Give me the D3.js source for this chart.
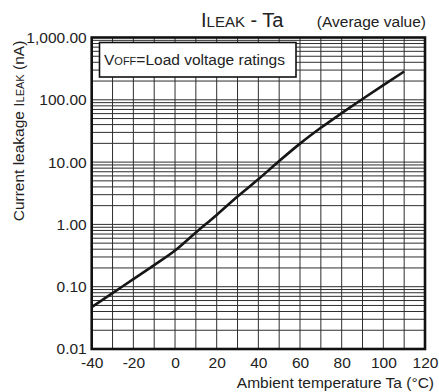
<!DOCTYPE html>
<html>
<head>
<meta charset="utf-8">
<script src="https://cdn.jsdelivr.net/npm/d3@7"></script>
<style>
  html, body { margin: 0; padding: 0; background: #fff; }
  svg { display: block; font-family: "Liberation Sans", Arial, Helvetica, sans-serif; }
</style>
</head>
<body>
<svg id="chart" width="439" height="392"></svg>
<script>
// Ambient temperature (°C) and average leakage current (nA)
const temperatures = [-40, -30, -20, -10, 0, 10, 20, 30, 40, 50, 60, 70, 80, 90, 100, 110];
const leakage = [0.047, 0.079, 0.132, 0.222, 0.38, 0.74, 1.42, 2.8, 5.3, 10.4, 19.8, 35.5, 61, 103, 172, 285];

const xTicks = [-40, -20, 0, 20, 40, 60, 80, 100, 120];
const xTickLabels = ["-40", "-20", "0", "20", "40", "60", "80", "100", "120"];
const yTicks = [0.01, 0.1, 1, 10, 100, 1000];
const yTickLabels = ["0.01", "0.10", "1.00", "10.00", "100.00", "1,000.00"];

const svg = d3.select("#chart");
const plotLeft = 91.7, plotRight = 425, plotTop = 37.5, plotBottom = 349;

const x = d3.scaleLinear().domain([-40, 120]).range([plotLeft, plotRight]);
const y = d3.scaleLog().domain([0.01, 1000]).range([plotBottom, plotTop]);

// Grid: vertical every 10 °C, horizontal at log minors 1..9 per decade
const grid = svg.append("g").attr("stroke", "#2e2e2e").attr("stroke-width", 1);
d3.range(-30, 120, 10).forEach(t => {
  grid.append("line")
    .attr("x1", x(t)).attr("x2", x(t))
    .attr("y1", plotTop).attr("y2", plotBottom);
});
const minors = [];
for (let e = -2; e < 3; e++) {
  for (let m = 1; m <= 9; m++) minors.push(m * Math.pow(10, e));
}
minors.filter(v => v > 0.01).forEach(v => {
  grid.append("line")
    .attr("x1", plotLeft).attr("x2", plotRight)
    .attr("y1", y(v)).attr("y2", y(v));
});

// Plot frame
svg.append("rect")
  .attr("x", plotLeft).attr("y", plotTop)
  .attr("width", plotRight - plotLeft).attr("height", plotBottom - plotTop)
  .attr("fill", "none").attr("stroke", "#111").attr("stroke-width", 2.6);

// Axes (labels only; the frame draws the lines)
const xAxis = d3.axisBottom(x).tickValues(xTicks)
  .tickFormat((d, i) => xTickLabels[i]).tickSize(0).tickPadding(8);
svg.append("g").attr("transform", `translate(0,${plotBottom})`).call(xAxis)
  .call(g => g.select(".domain").remove())
  .selectAll("text")
  .attr("font-size", 15.5).attr("fill", "#222")
  .attr("font-family", "Liberation Sans, Arial, sans-serif");

const yAxis = d3.axisLeft(y).tickValues(yTicks)
  .tickFormat((d, i) => yTickLabels[i]).tickSize(0).tickPadding(5);
svg.append("g").attr("transform", `translate(${plotLeft},0)`).call(yAxis)
  .call(g => g.select(".domain").remove())
  .selectAll("text")
  .attr("font-size", 15.5).attr("fill", "#222")
  .attr("font-family", "Liberation Sans, Arial, sans-serif");

// Leakage curve
const line = d3.line()
  .x((d, i) => x(temperatures[i]))
  .y(d => y(d))
  .curve(d3.curveMonotoneX);
svg.append("path")
  .datum(leakage)
  .attr("d", line)
  .attr("fill", "none")
  .attr("stroke", "#161616")
  .attr("stroke-width", 2.6);

// Condition box
svg.append("rect")
  .attr("x", 99.5).attr("y", 42.5).attr("width", 196.5).attr("height", 34.5)
  .attr("fill", "#fff").attr("stroke", "#111").attr("stroke-width", 1.6);
const cond = svg.append("text").attr("x", 104).attr("y", 64.5)
  .attr("font-size", 15.5).attr("fill", "#222");
cond.append("tspan").text("V");
cond.append("tspan").attr("font-size", 11).text("OFF");
cond.append("tspan").text("=Load voltage ratings");

// Title
const title = svg.append("text").attr("x", 201).attr("y", 26.7)
  .attr("font-size", 20).attr("fill", "#222");
title.append("tspan").text("I");
title.append("tspan").attr("font-size", 15).text("LEAK");
title.append("tspan").text(" - Ta");

svg.append("text").attr("x", 426).attr("y", 26.5)
  .attr("text-anchor", "end").attr("font-size", 15.5).attr("fill", "#222")
  .text("(Average value)");

// Axis titles
svg.append("text").attr("x", 434).attr("y", 388)
  .attr("text-anchor", "end").attr("font-size", 15.5).attr("fill", "#222")
  .text("Ambient temperature Ta (°C)");

const yTitle = svg.append("text")
  .attr("transform", "translate(23.5,131) rotate(-90)")
  .attr("text-anchor", "middle").attr("font-size", 15.5).attr("fill", "#222");
yTitle.append("tspan").text("Current leakage I");
yTitle.append("tspan").attr("font-size", 11).text("LEAK");
yTitle.append("tspan").text(" (nA)");
</script>
</body>
</html>
